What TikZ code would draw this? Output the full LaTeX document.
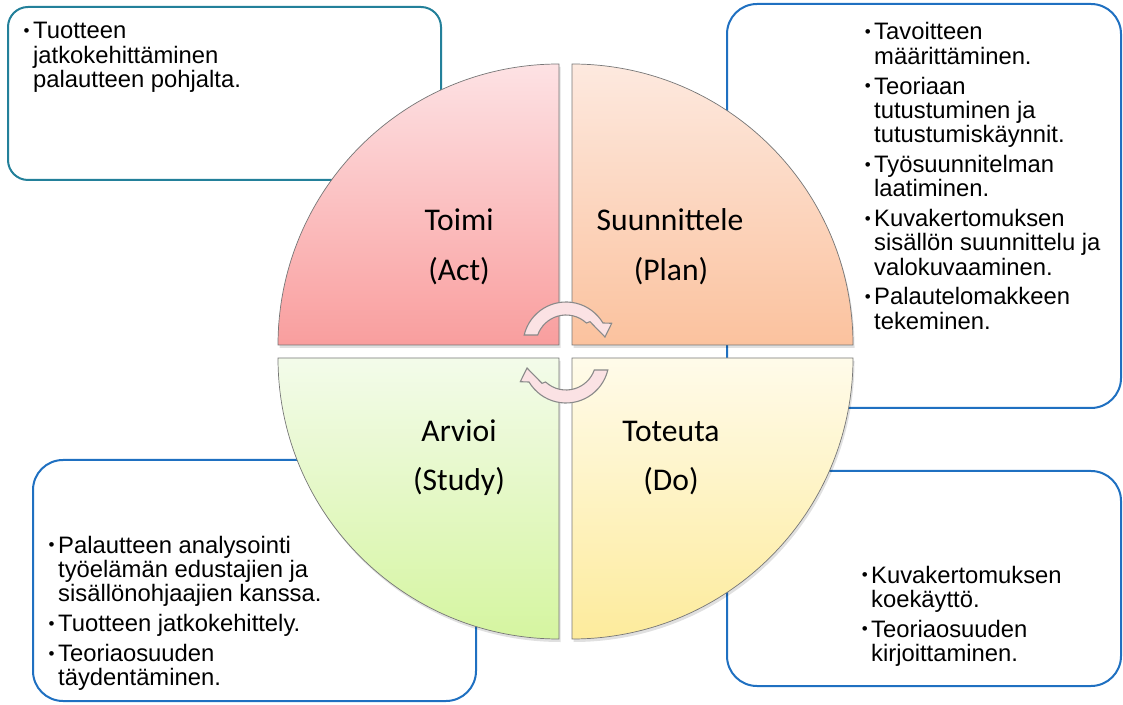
\documentclass[tikz,border=0pt]{standalone}
\usepackage{fontspec}
\setmainfont{Liberation Sans}
\newfontfamily\lblfont{Carlito}
\definecolor{tealline}{HTML}{23809A}
\definecolor{blueline}{HTML}{1F70C1}
\definecolor{actTop}{HTML}{FDE2E4}
\definecolor{actBot}{HTML}{F99E9E}
\definecolor{planTop}{HTML}{FDE9DF}
\definecolor{planBot}{HTML}{FBC29E}
\definecolor{studyTop}{HTML}{F3FBEA}
\definecolor{studyBot}{HTML}{D5F5A0}
\definecolor{doTop}{HTML}{FFFBEA}
\definecolor{doBot}{HTML}{FDEB9C}
\definecolor{arrowPink}{HTML}{FBE2E4}
\definecolor{arrowEdge}{HTML}{8A8A8A}
\definecolor{quadEdge}{HTML}{767676}
\newcommand\bul{\leavevmode\llap{\raisebox{2.2pt}{\fontsize{17}{17}\selectfont •}\hspace{3.5pt}}}
\newcommand\boxtext[1]{\parbox[t]{330pt}{\raggedright\setlength{\parindent}{0pt}\setlength{\parskip}{5.5pt}\fontsize{23.8}{24.3}\selectfont #1}}
\tikzset{
  infobox/.style={draw, line width=2pt, rounded corners=30pt, fill=white, inner sep=0pt},
  quad/.style={draw=quadEdge, line width=0.7pt},
  qshadow/.style={fill=black, opacity=0.12},
  lbl/.style={font=\lblfont\fontsize{31.6}{38}\selectfont, anchor=base, inner sep=0pt},
  txt/.style={anchor=base west, inner sep=0pt},
  cyc/.style={draw=arrowEdge, line width=1.1pt, fill=arrowPink},
}
\begin{document}
\begin{tikzpicture}[x=1pt,y=1pt]
\useasboundingbox (0,0) rectangle (1123,704);
% information boxes
\node[infobox, draw=tealline, rounded corners=20pt, minimum width=433pt, minimum height=173pt] (actbox) at (224.5,610.5) {};
\node[infobox, draw=blueline, minimum width=394pt, minimum height=404pt] (planbox) at (924,498) {};
\node[infobox, draw=blueline, minimum width=443pt, minimum height=241pt] (studybox) at (254.5,123.5) {};
\node[infobox, draw=blueline, minimum width=394pt, minimum height=215pt] (dobox) at (924,125.5) {};
% quadrant shadows
\begin{scope}[shift={(1.5,-3)}]
\fill[qshadow] (559,359) -- (278,359) arc[start angle=180,end angle=90,radius=281] -- cycle;
\fill[qshadow] (572,359) -- (572,640) arc[start angle=90,end angle=0,radius=281] -- cycle;
\fill[qshadow] (559,346) -- (559,65) arc[start angle=270,end angle=180,radius=281] -- cycle;
\fill[qshadow] (572,346) -- (853,346) arc[start angle=0,end angle=-90,radius=281] -- cycle;
\end{scope}
% quadrants
\draw[quad, top color=actTop, bottom color=actBot] (559,359) -- (278,359) arc[start angle=180,end angle=90,radius=281] -- cycle;
\draw[quad, top color=planTop, bottom color=planBot] (572,359) -- (572,640) arc[start angle=90,end angle=0,radius=281] -- cycle;
\draw[quad, top color=studyTop, bottom color=studyBot] (559,346) -- (559,65) arc[start angle=270,end angle=180,radius=281] -- cycle;
\draw[quad, top color=doTop, bottom color=doBot] (572,346) -- (853,346) arc[start angle=0,end angle=-90,radius=281] -- cycle;
% quadrant labels
\node[lbl] (toimi) at (459,473) {Toimi};
\node[lbl] (act) at (459,423) {(Act)};
\node[lbl] (suun) at (670,473) {Suunnittele};
\node[lbl] (plan) at (671,423) {(Plan)};
\node[lbl] (arvioi) at (459,262) {Arvioi};
\node[lbl] (study) at (459,213) {(Study)};
\node[lbl] (toteuta) at (671,262) {Toteuta};
\node[lbl] (do) at (671,213) {(Do)};
% cycle arrows
\begin{scope}[shift={(566,359)}]
\draw[cyc] (166.55:43) arc[start angle=166.55,end angle=30.8,radius=43] -- (45.7,21.7) -- (39,8) -- (24,23.3) -- (47.2:30) arc[start angle=47.2,end angle=160.5,radius=30] -- cycle;
\end{scope}
\begin{scope}[rotate around={180:(566,351.5)}, shift={(566,359)}]
\draw[cyc] (166.55:43) arc[start angle=166.55,end angle=30.8,radius=43] -- (45.7,21.7) -- (39,8) -- (24,23.3) -- (47.2:30) arc[start angle=47.2,end angle=160.5,radius=30] -- cycle;
\end{scope}
% box texts
\node[txt] (acttext) at (33,665) {\boxtext{\bul Tuotteen\\jatkokehittäminen\\palautteen pohjalta.}};
\node[txt] (plantext) at (874,664) {\boxtext{\bul Tavoitteen\\määrittäminen.\par
\bul Teoriaan\\tutustuminen ja\\tutustumiskäynnit.\par
\bul Työsuunnitelman\\laatiminen.\par
\bul Kuvakertomuksen\\sisällön suunnittelu ja\\valokuvaaminen.\par
\bul Palautelomakkeen\\tekeminen.}};
\node[txt] (studytext) at (58,151) {\boxtext{\bul Palautteen analysointi\\työelämän edustajien ja\\sisällönohjaajien kanssa.\par
\bul Tuotteen jatkokehittely.\par
\bul Teoriaosuuden\\täydentäminen.}};
\node[txt] (dotext) at (871,121) {\boxtext{\bul Kuvakertomuksen\\koekäyttö.\par
\bul Teoriaosuuden\\kirjoittaminen.}};
\end{tikzpicture}
\end{document}
